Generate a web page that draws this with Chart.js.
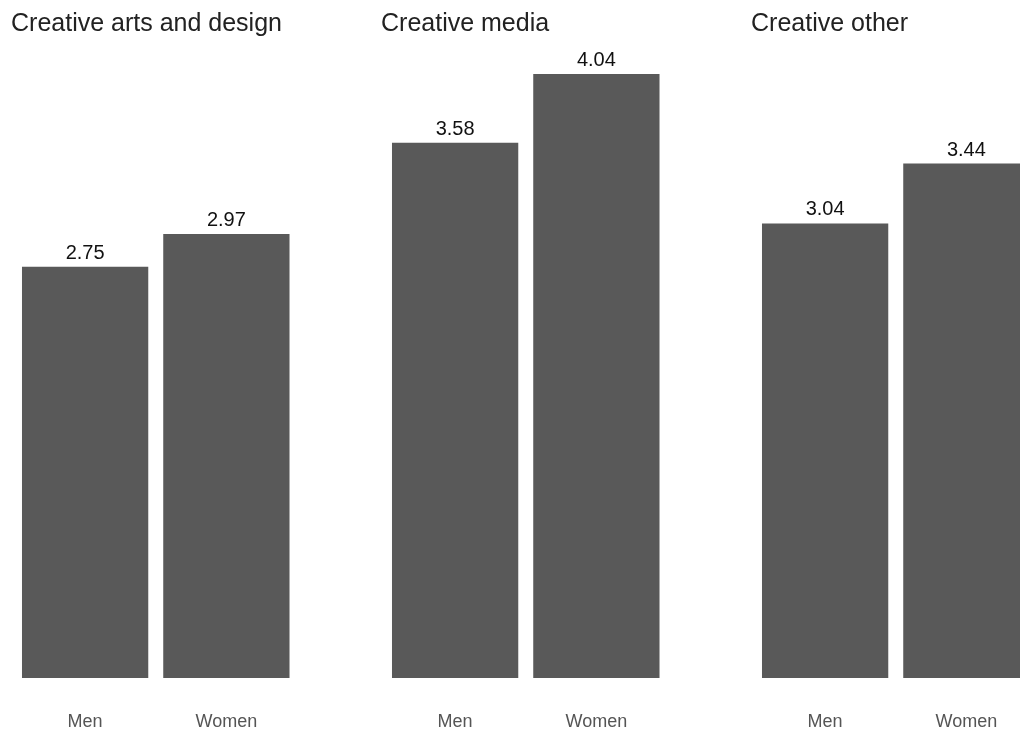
<!DOCTYPE html>
<html>
<head>
<meta charset="utf-8">
<script src="https://cdn.jsdelivr.net/npm/chart.js@4/dist/chart.umd.min.js"></script>
<style>
  html, body { margin: 0; padding: 0; background: #fff; overflow: hidden; }
  body { width: 1020px; height: 733px; position: relative; }
  canvas { position: absolute; top: 0; }
</style>
</head>
<body>
<canvas id="panel1" width="286" height="733" style="left:11px"></canvas>
<canvas id="panel2" width="286" height="733" style="left:381px"></canvas>
<canvas id="panel3" width="286" height="733" style="left:751px"></canvas>
<script>
// Data
const categories = ['Men', 'Women'];
const panelTitles = ['Creative arts and design', 'Creative media', 'Creative other'];
const artsDesign = [2.75, 2.97];
const media = [3.58, 4.04];
const other = [3.04, 3.44];
const yMax = 4.24;

const barColor = '#595959';

// Value labels above each bar
const valueLabels = {
    id: 'valueLabels',
    afterDatasetsDraw(chart) {
        const ctx = chart.ctx;
        ctx.save();
        ctx.font = '20px "Liberation Sans", Arial, sans-serif';
        ctx.fillStyle = '#111';
        ctx.textAlign = 'center';
        ctx.textBaseline = 'alphabetic';
        chart.getDatasetMeta(0).data.forEach((bar, i) => {
            const v = chart.data.datasets[0].data[i];
            ctx.fillText(v.toFixed(2), bar.x, bar.y - 8);
        });
        ctx.restore();
    }
};

function makePanel(id, title, values) {
    new Chart(document.getElementById(id), {
        type: 'bar',
        data: {
            labels: categories,
            datasets: [{
                data: values,
                backgroundColor: barColor,
                borderWidth: 0,
                barPercentage: 0.894,
                categoryPercentage: 1
            }]
        },
        options: {
            responsive: false,
            animation: false,
            layout: { padding: 0 },
            plugins: {
                legend: { display: false },
                tooltip: { enabled: false },
                title: {
                    display: true,
                    text: title,
                    align: 'start',
                    color: '#222',
                    font: { family: '"Liberation Sans", Arial, sans-serif', size: 25, weight: 'normal', lineHeight: 1.2 },
                    padding: { top: 9, bottom: 5 }
                }
            },
            scales: {
                x: {
                    grid: { display: false, drawTicks: false },
                    border: { display: false },
                    ticks: {
                        color: '#555',
                        padding: 33,
                        font: { family: '"Liberation Sans", Arial, sans-serif', size: 18 }
                    },
                    afterFit(scale) { scale.height = 55; }
                },
                y: {
                    min: 0,
                    max: yMax,
                    grid: { display: false, drawTicks: false },
                    border: { display: false },
                    ticks: { display: false },
                    afterFit(scale) { scale.width = 3.5; }
                }
            }
        },
        plugins: [valueLabels]
    });
}

makePanel('panel1', panelTitles[0], artsDesign);
makePanel('panel2', panelTitles[1], media);
makePanel('panel3', panelTitles[2], other);
</script>
</body>
</html>
